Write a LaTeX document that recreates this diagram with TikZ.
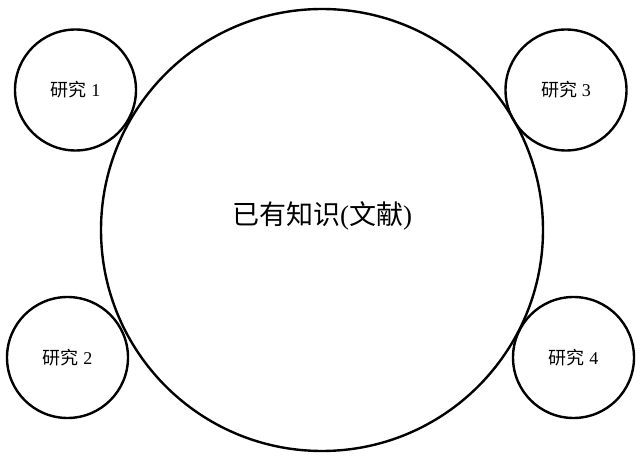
\documentclass[tikz,border=0pt]{standalone}
\usepackage{fontspec}
\setmainfont{Liberation Serif}
\newfontfamily\cjk{Noto Sans CJK SC}
\usetikzlibrary{positioning}

\begin{document}
\begin{tikzpicture}[x=1pt, y=-1pt,
	ring/.style={circle, draw, line width=2.4pt, inner sep=0pt},
	study/.style={ring, minimum size=121pt, font=\fontsize{18}{20}\selectfont}]
\useasboundingbox (0,0) rectangle (640,462);
\node[ring, minimum size=442pt] (know) at (322,230) {};
\node[font=\fontsize{27}{30}\selectfont] (knowtext) at ([yshift=14pt]know.center) {{\cjk 已有知识}({\cjk 文献})};
\node[study] (s1) at (75.5,90) {{\cjk 研究} 1};
\node[study] (s2) at (67.5,357.5) {{\cjk 研究} 2};
\node[study] (s3) at (566,90) {{\cjk 研究} 3};
\node[study] (s4) at (573.5,357.5) {{\cjk 研究} 4};
\end{tikzpicture}
\end{document}
